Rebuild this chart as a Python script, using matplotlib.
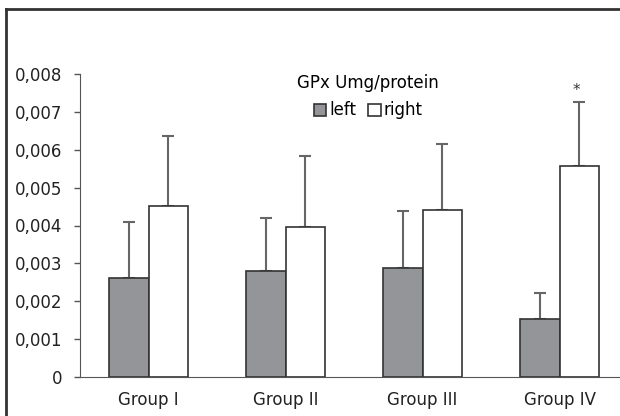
import matplotlib
matplotlib.use("Agg")
import matplotlib.pyplot as plt
import numpy as np
from matplotlib.ticker import FuncFormatter

groups = ["Group I", "Group II", "Group III", "Group IV"]
left_vals = [0.00262, 0.00281, 0.00287, 0.00152]
left_err_top = [0.00408, 0.00419, 0.00439, 0.00221]
right_vals = [0.00451, 0.00397, 0.00442, 0.00557]
right_err_top = [0.00636, 0.00584, 0.00614, 0.00727]
yticks = [0, 0.001, 0.002, 0.003, 0.004, 0.005, 0.006, 0.007, 0.008]

plt.rcParams['font.family'] = ['DejaVu Sans']
FS = 12

fig = plt.figure(figsize=(6.2, 4.16), dpi=100)
# outer frame lines (top and left)
fig.add_artist(plt.Line2D([6/620, 1.0], [1-9/416, 1-9/416], transform=fig.transFigure, color='#333333', lw=2))
fig.add_artist(plt.Line2D([6/620, 6/620], [1-9/416, 0], transform=fig.transFigure, color='#333333', lw=2))

x0, x1 = 80/620, 628/620
y0, y1 = 1-377/416, 1-74/416
ax = fig.add_axes([x0, y0, x1-x0, y1-y0])

x = np.arange(len(groups))
w = 0.29
lv = np.array(left_vals); rv = np.array(right_vals)
le = np.array(left_err_top) - lv
re = np.array(right_err_top) - rv

ax.bar(x - w/2, lv, w, color='#939598', edgecolor='#333333', linewidth=1.2, label='left', zorder=2)
ax.bar(x + w/2, rv, w, color='white', edgecolor='#333333', linewidth=1.2, label='right', zorder=2)
ax.errorbar(x - w/2, lv, yerr=[np.zeros_like(le), le], fmt='none', ecolor='#666666', elinewidth=1.5, capsize=4, capthick=1.5, zorder=1)
ax.errorbar(x + w/2, rv, yerr=[np.zeros_like(re), re], fmt='none', ecolor='#666666', elinewidth=1.5, capsize=4, capthick=1.5, zorder=1)

ax.text(x[3] + w/2 - 0.02, right_err_top[3] + 0.0001, '*', ha='center', va='bottom', fontsize=11, color='#333333')

ax.set_xlim(-0.5, 3.5)
ax.set_ylim(0, 0.008)
ax.set_yticks(yticks)
ax.yaxis.set_major_formatter(FuncFormatter(lambda v, p: '0' if v == 0 else f"{v:.3f}".replace('.', ',')))
ax.set_xticks(x)
ax.set_xticklabels(groups)
ax.tick_params(axis='x', length=0, pad=10, labelsize=FS, labelcolor='#222222')
ax.tick_params(axis='y', length=4, width=1, direction='out', labelsize=FS, colors='#555555', labelcolor='#222222', pad=9)
for s in ['top', 'right']:
    ax.spines[s].set_visible(False)
ax.spines['left'].set_color('#555555')
ax.spines['bottom'].set_color('#555555')

leg = ax.legend(title='GPx Umg/protein', loc='upper center', bbox_to_anchor=(0.526, 1.023),
                ncol=2, frameon=False, fontsize=FS, title_fontsize=FS,
                handlelength=0.75, handleheight=0.75, handletextpad=0.2, columnspacing=0.7,
                borderaxespad=0.0, labelspacing=0.3)
leg._legend_box.sep = 7
fig.savefig('out.png', dpi=100)
